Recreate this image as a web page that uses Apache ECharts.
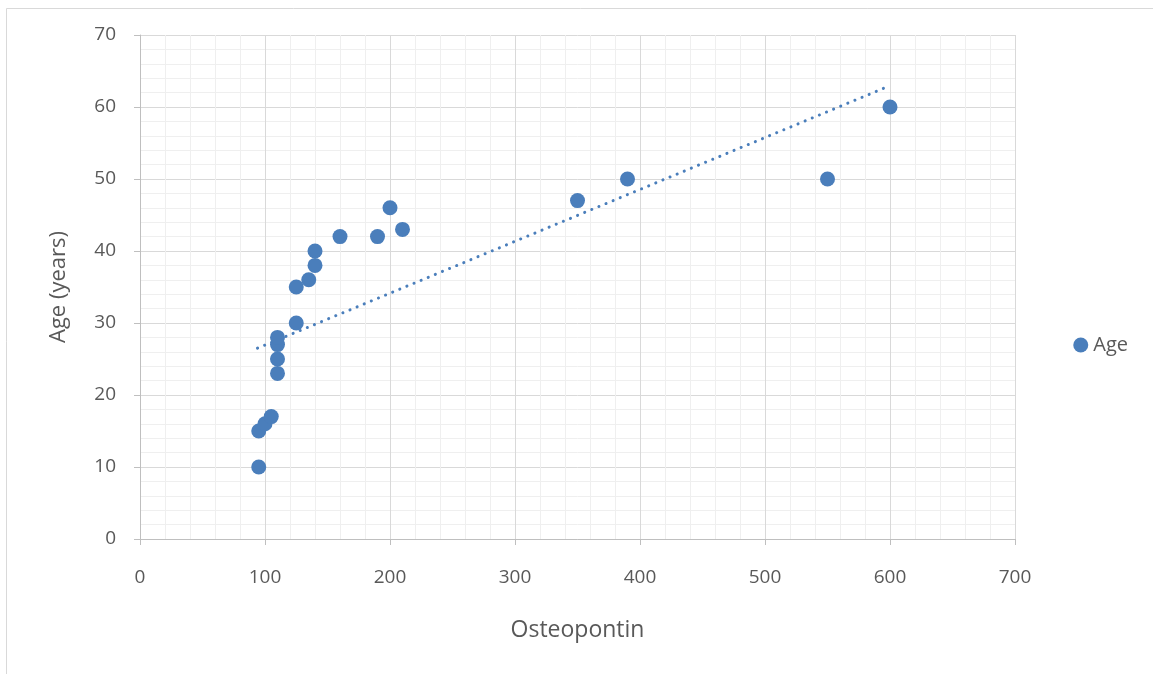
<!DOCTYPE html>
<html>
<head>
<meta charset="utf-8">
<script src="https://cdn.jsdelivr.net/npm/echarts@6/dist/echarts.min.js"></script>
<style>html,body{margin:0;padding:0;background:#fff;}#c{width:1153px;height:674px;}</style>
</head>
<body>
<div id="c"></div>
<script>
// Data
var osteopontin = [95, 95, 100, 105, 110, 110, 110, 110, 125, 125, 135, 140, 140, 160, 190, 200, 210, 350, 390, 550, 600];
var age         = [10, 15, 16, 17, 23, 25, 27, 28, 30, 35, 36, 38, 40, 42, 42, 46, 43, 47, 50, 50, 60];
// Dotted linear trendline end points
var trendX = [94, 595];
var trendY = [26.5, 62.6];

var xTicks = { min: 0, max: 700, interval: 100 };
var yTicks = { min: 0, max: 70, interval: 10 };

var points = osteopontin.map(function (x, i) { return [x, age[i]]; });
var trend = trendX.map(function (x, i) { return [x, trendY[i]]; });

var FONT = 'Open Sans';
var TXT = '#595959';
var BLUE = '#4a7ebb';

var chart = echarts.init(document.getElementById('c'), null, { renderer: 'canvas' });
chart.setOption({
  animation: false,
  backgroundColor: '#fff',
  textStyle: { fontFamily: FONT },
  graphic: [{
    type: 'rect', left: 4, top: 6, z: -10, silent: true,
    shape: { x: 0, y: 0, width: 1200, height: 720 },
    style: { fill: 'none', stroke: '#d9d9d9', lineWidth: 1 }
  }],
  grid: { left: 140, right: 138, top: 35, bottom: 135, containLabel: false },
  legend: {
    data: [{ name: 'Age', icon: 'circle' }],
    right: 20, top: 330, itemWidth: 15, itemHeight: 15, itemGap: 6,
    textStyle: { fontFamily: FONT, fontSize: 20, color: TXT }
  },
  xAxis: {
    type: 'value', min: xTicks.min, max: xTicks.max, interval: xTicks.interval,
    name: 'Osteopontin', nameLocation: 'middle', nameGap: 80,
    nameTextStyle: { fontFamily: FONT, fontSize: 23, color: TXT },
    axisLine: { show: true, onZero: false, lineStyle: { color: '#bfbfbf', width: 1 } },
    axisTick: { show: true, length: 6, lineStyle: { color: '#bfbfbf' } },
    axisLabel: { margin: 29, fontFamily: FONT, fontSize: 19, color: TXT },
    splitLine: { show: true, lineStyle: { color: '#d9d9d9', width: 1 } },
    minorTick: { show: false, splitNumber: 5 },
    minorSplitLine: { show: true, lineStyle: { color: '#efefef', width: 1 } }
  },
  yAxis: {
    type: 'value', min: yTicks.min, max: yTicks.max, interval: yTicks.interval,
    name: 'Age (years)', nameLocation: 'middle', nameGap: 70,
    nameTextStyle: { fontFamily: FONT, fontSize: 22, color: TXT },
    axisLine: { show: true, lineStyle: { color: '#bfbfbf', width: 1 } },
    axisTick: { show: true, length: 6, lineStyle: { color: '#bfbfbf' } },
    axisLabel: { margin: 24, fontFamily: FONT, fontSize: 19, color: TXT },
    splitLine: { show: true, lineStyle: { color: '#d9d9d9', width: 1 } },
    minorTick: { show: false, splitNumber: 5 },
    minorSplitLine: { show: true, lineStyle: { color: '#efefef', width: 1 } }
  },
  series: [
    {
      name: 'Age', type: 'scatter', data: points, symbol: 'circle', symbolSize: 15,
      itemStyle: { color: BLUE, opacity: 1 }, z: 3
    },
    {
      name: 'trend', type: 'line', data: trend, symbol: 'none', z: 2,
      lineStyle: { color: BLUE, width: 3, type: [0.1, 7.6], cap: 'round' }
    }
  ]
});
</script>
</body>
</html>
